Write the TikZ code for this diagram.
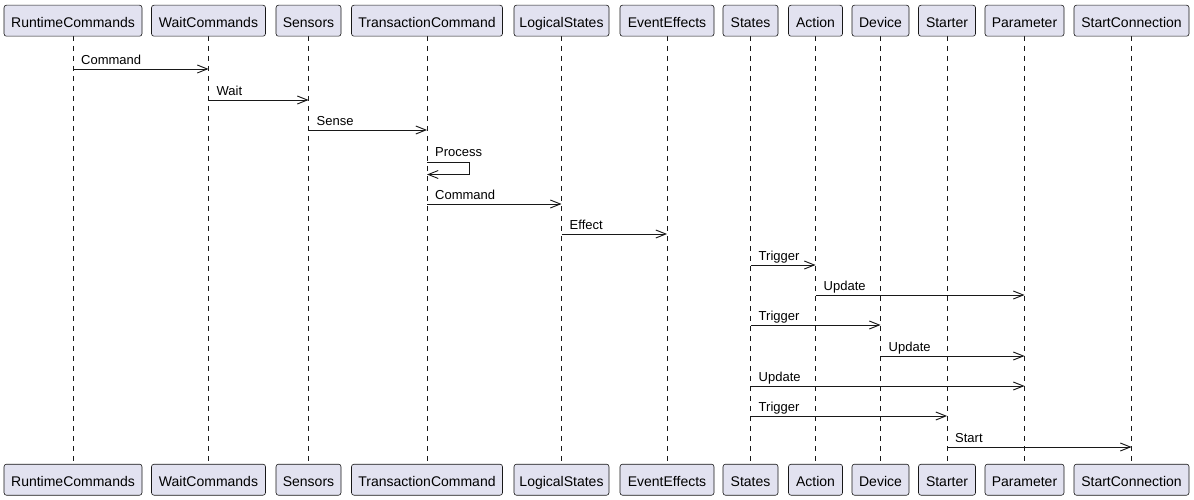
\documentclass[tikz,border=0pt]{standalone}
\usepackage{fontspec}
\setmainfont{Liberation Sans}
\usetikzlibrary{arrows.meta}
\definecolor{boxfill}{HTML}{E2E2F0}
\definecolor{boxline}{HTML}{181818}
\tikzset{
  part/.style={draw=boxline, line width=0.6pt, fill=boxfill, rounded corners=2.5pt,
    minimum height=31pt, inner sep=0pt, text height=14pt, text depth=1pt,
    font=\fontsize{14pt}{16pt}\selectfont, text=black},
  life/.style={draw=boxline, line width=0.5pt, dash pattern=on 5pt off 5pt},
  msg/.style={draw=boxline, line width=0.9pt, -{Straight Barb[length=10pt,width=8pt,line width=0.9pt]}},
  lbl/.style={anchor=base west, inner sep=0pt, font=\fontsize{13pt}{15pt}\selectfont}
}
\begin{document}
\begin{tikzpicture}[x=1pt,y=-1pt]
\useasboundingbox[fill=white] (0,0) rectangle (1194,500);
% participants (top / bottom)
\foreach \n/\t/\x/\w in {rc/RuntimeCommands/73/138, wc/WaitCommands/208.5/114, se/Sensors/308.5/65,
  tc/TransactionCommand/427/151, ls/LogicalStates/561.5/95, ee/EventEffects/667/94,
  st/States/750.5/55, ac/Action/815.5/54, de/Device/880.5/57, sr/Starter/947/57,
  pa/Parameter/1024.5/79, sc/StartConnection/1131.5/115}{
  \draw[life] (\x,36) -- (\x,464);
  \node[part, minimum width=\w pt] (\n) at (\x,20.7) {\t};
  \node[part, minimum width=\w pt] (\n b) at (\x,479.7) {\t};
}
% messages
\draw[msg] (rc |- 0,69) -- (wc |- 0,69);
\node[lbl] at ([xshift=8pt]rc |- 0,64.5) {Command};
\draw[msg] (wc |- 0,100) -- (se |- 0,100);
\node[lbl] at ([xshift=8pt]wc |- 0,95.5) {Wait};
\draw[msg] (se |- 0,130) -- (tc |- 0,130);
\node[lbl] at ([xshift=8pt]se |- 0,125.5) {Sense};
\draw[msg] (tc |- 0,162) -- ++(42,0) -- ++(0,12.5) -- (tc |- 0,174.5);
\node[lbl] at ([xshift=8pt]tc |- 0,156.5) {Process};
\draw[msg] (tc |- 0,204) -- (ls |- 0,204);
\node[lbl] at ([xshift=8pt]tc |- 0,199.5) {Command};
\draw[msg] (ls |- 0,234) -- (ee |- 0,234);
\node[lbl] at ([xshift=8pt]ls |- 0,229.5) {Effect};
\draw[msg] (st |- 0,265) -- (ac |- 0,265);
\node[lbl] at ([xshift=8pt]st |- 0,260.5) {Trigger};
\draw[msg] (ac |- 0,295) -- (pa |- 0,295);
\node[lbl] at ([xshift=8pt]ac |- 0,290.5) {Update};
\draw[msg] (st |- 0,325) -- (de |- 0,325);
\node[lbl] at ([xshift=8pt]st |- 0,320.5) {Trigger};
\draw[msg] (de |- 0,356) -- (pa |- 0,356);
\node[lbl] at ([xshift=8pt]de |- 0,351.5) {Update};
\draw[msg] (st |- 0,386) -- (pa |- 0,386);
\node[lbl] at ([xshift=8pt]st |- 0,381.5) {Update};
\draw[msg] (st |- 0,416) -- (sr |- 0,416);
\node[lbl] at ([xshift=8pt]st |- 0,411.5) {Trigger};
\draw[msg] (sr |- 0,447) -- (sc |- 0,447);
\node[lbl] at ([xshift=8pt]sr |- 0,442.5) {Start};
\end{tikzpicture}
\end{document}
